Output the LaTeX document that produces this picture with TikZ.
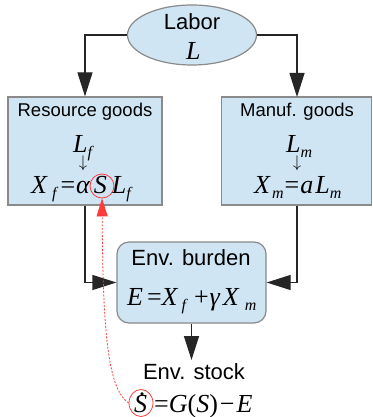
\documentclass[tikz,border=0pt]{standalone}
\usepackage{graphicx}
\usepackage{fontspec}
\setmainfont{Liberation Sans}
\newfontfamily\tms{Liberation Serif}
\usetikzlibrary{arrows.meta,shapes.geometric}
\definecolor{boxfill}{HTML}{D0E5F3}
\definecolor{boxline}{HTML}{8A8A8A}
\definecolor{redline}{HTML}{FF3B3B}
\newcommand\mi[1]{{\itshape #1}}
\newcommand\sbs[1]{\raisebox{-5pt}{\fontsize{16}{16}\selectfont\itshape #1}}
\newcommand\hs[1]{\hspace*{#1pt}}
\newcommand\Sdot{\ooalign{\itshape S\cr\hidewidth\hspace*{3pt}\raisebox{0.62em}{.}\hidewidth\cr}}
\newcommand\darr{\resizebox*{!}{15pt}{$\downarrow$}}
\tikzset{
  shapebox/.style={draw=boxline, fill=boxfill, line width=1.2pt, inner sep=0pt},
  conn/.style={draw=black!85, line width=1.2pt, -{Triangle[length=24pt,width=15pt]}},
  title/.style={font=\fontsize{18.5}{20}\selectfont, anchor=base, inner sep=0pt},
  big/.style={font=\fontsize{22}{24}\selectfont, anchor=base, inner sep=0pt},
  eq/.style={font=\tms\fontsize{26}{28}\selectfont, anchor=base west, inner sep=0pt},
  arrowtxt/.style={inner sep=0pt},
  redcirc/.style={draw=redline, line width=0.8pt, inner sep=0pt},
}
\begin{document}
\begin{tikzpicture}[x=1pt,y=-1pt]
\useasboundingbox (0,0) rectangle (372,417);
% shapes
\node[shapebox, ellipse, minimum width=129pt, minimum height=60pt] (labor) at (192,35) {};
\node[shapebox, rectangle, minimum width=154pt, minimum height=108pt] (lbox) at (85,151) {};
\node[shapebox, rectangle, minimum width=150pt, minimum height=108pt] (rbox) at (296.5,151) {};
\node[shapebox, rectangle, rounded corners=12pt, minimum width=149pt, minimum height=81pt] (burden) at (191.5,282.5) {};
% texts
\node[big] (tlabor) at (192,30) {Labor};
\node[eq] (tL) at (186,60) {\mi{L}};
\node[title] (tres) at (85,117) {Resource goods};
\node[eq] (tLf) at (73,152) {\mi{L}\sbs{f}};
\node[arrowtxt] (tarl) at (83,163.5) {\darr};
\node[eq] (tXf) at (31,193) {\mi{X}\hs{5}\sbs{f}\hs{4}=\hs{1}\mi{α}\hs{4}\mi{S}\hs{5}\mi{L}\sbs{f}};
\node[title] (tman) at (297,117) {Manuf. goods};
\node[eq] (tLm) at (286,152) {\mi{L}\sbs{m}};
\node[arrowtxt] (tarr) at (297,163.5) {\darr};
\node[eq] (tXm) at (254,193) {\mi{X}\hs{2}\sbs{m}\hs{1}=\hs{1}\mi{a}\hs{2}\mi{L}\sbs{m}};
\node[big] (tburden) at (191,265.5) {Env. burden};
\node[eq] (tE) at (127,305) {\mi{E}\hs{4}=\mi{X}\hs{4}\sbs{f}\hs{8}+\hs{1}\mi{γ}\hs{3}\mi{X}\hs{6}\sbs{m}};
\node[big] (tstock) at (194,379) {Env. stock};
\node[eq] (tSdot) at (134,412) {\Sdot\hs{7}=\mi{G}(\mi{S})\hs{2}−\hs{2}\mi{E}};
% red circles
\node[redcirc, circle, minimum size=24pt] (scirc) at (102,186) {};
\node[redcirc, ellipse, minimum width=24pt, minimum height=27pt] (sdotc) at (141,403) {};
% connectors
\coordinate (lt) at (lbox.north);
\coordinate (rt) at (297,97);
\draw[conn] (labor.west) -| (lt);
\draw[conn] (labor.east) -| (rt);
\draw[conn] (lbox.south) |- (burden.west);
\draw[conn] ([xshift=0.5pt]rbox.south) |- (burden.east);
\coordinate (stocktop) at (191.5,360);
\draw[conn] (burden.south) -- (stocktop);
\draw[redline, line width=0.8pt, dash pattern=on 2pt off 1.5pt, -{Triangle[length=18pt,width=11pt]}]
  (sdotc.west) .. controls (106,388) and (103,320) .. (scirc.south);
\end{tikzpicture}
\end{document}
